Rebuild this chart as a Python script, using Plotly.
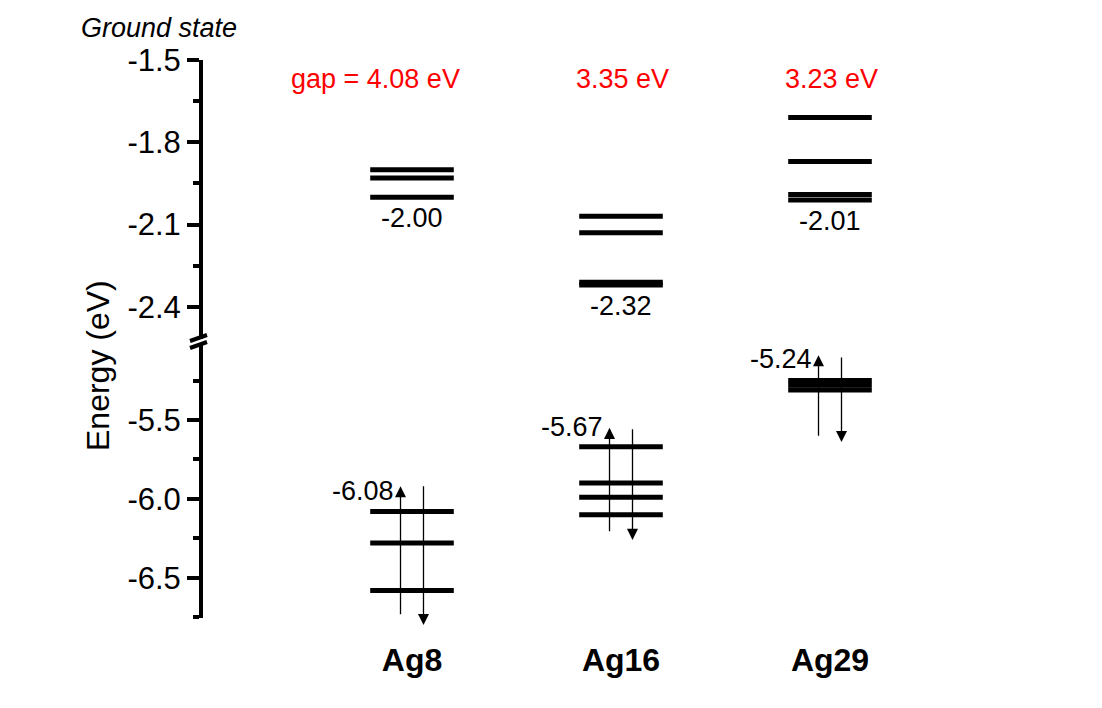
import plotly.graph_objects as go

# ---------------- data ----------------
categories = ["Ag8", "Ag16", "Ag29"]
cat_pos = [1, 2, 3]
lumo_levels = [[-1.90, -1.93, -2.00],
               [-2.07, -2.13, -2.31, -2.32],
               [-1.71, -1.87, -1.99, -2.01]]
homo_levels = [[-6.08, -6.28, -6.58],
               [-5.67, -5.90, -5.99, -6.10],
               [-5.25, -5.28, -5.31]]
lumo_values = [-2.00, -2.32, -2.01]
homo_values = [-6.08, -5.67, -5.24]
gaps = [4.08, 3.35, 3.23]
up_from = [-6.74, -6.215, -5.61]
up_to = [-5.92, -5.55, -5.09]
down_from = [-5.91, -5.55, -5.095]
down_to = [-6.80, -6.26, -5.64]

FONT = "Arial, Liberation Sans, sans-serif"
HALF = 0.2     # half width of a level bar
AOFF = 0.055   # arrow offset from the category centre

fig = go.Figure()

def level_trace(levels, c, yaxis):
    xs, ys = [], []
    for v in levels:
        xs += [c - HALF, c + HALF, None]
        ys += [v, v, None]
    return go.Scatter(x=xs, y=ys, mode="lines", yaxis=yaxis,
                      line=dict(color="black", width=5),
                      hoverinfo="skip", showlegend=False)

for c, lu, ho in zip(cat_pos, lumo_levels, homo_levels):
    fig.add_trace(level_trace(lu, c, "y"))
    fig.add_trace(level_trace(ho, c, "y2"))

annotations = []
for c, lv, hv, g, uf, ut, df, dt in zip(cat_pos, lumo_values, homo_values, gaps,
                                        up_from, up_to, down_from, down_to):
    # LUMO label
    annotations.append(dict(x=c, y=lv, xref="x", yref="y", text=f"{lv:.2f}",
                            showarrow=False, yanchor="middle", yshift=-21,
                            font=dict(family=FONT, size=27, color="black")))
    # HOMO label
    annotations.append(dict(x=c - AOFF, y=hv, xref="x", yref="y2", text=f"{hv:.2f}",
                            showarrow=False, xanchor="right", xshift=-5,
                            yanchor="middle", yshift=20,
                            font=dict(family=FONT, size=27, color="black")))
    # spin arrows
    annotations.append(dict(x=c - AOFF, y=ut, ax=c - AOFF, ay=uf, xref="x", yref="y2",
                            axref="x", ayref="y2", text="", showarrow=True,
                            arrowhead=2, arrowsize=1.7, arrowwidth=1.3,
                            arrowcolor="black", standoff=0, startstandoff=0))
    annotations.append(dict(x=c + AOFF, y=dt, ax=c + AOFF, ay=df, xref="x", yref="y2",
                            axref="x", ayref="y2", text="", showarrow=True,
                            arrowhead=2, arrowsize=1.7, arrowwidth=1.3,
                            arrowcolor="black", standoff=0, startstandoff=0))
    # gap label
    gtxt = f"gap = {g:.2f} eV" if c == cat_pos[0] else f"{g:.2f} eV"
    annotations.append(dict(x=c, y=1, xref="x", yref="paper", text=gtxt,
                            showarrow=False, xanchor="right", xshift=50,
                            yanchor="middle", yshift=-19,
                            font=dict(family=FONT, size=27, color="#FF0000")))

# plot area: x 203..1039, y 60..618
L, R, T, B = 203, 63, 60, 90
W, H = 1102, 708
pw, ph = W - L - R, H - T - B

def px(x):
    return (x - L) / pw

def py(y):
    return (H - B - y) / ph

annotations.append(dict(x=px(79), y=py(28), xref="paper", yref="paper",
                        text="<i>Ground state</i>", showarrow=False,
                        xanchor="left", yanchor="middle",
                        font=dict(family=FONT, size=27, color="black")))
annotations.append(dict(x=px(98), y=py(366), xref="paper", yref="paper",
                        text="Energy (eV)", showarrow=False, textangle=-90,
                        xanchor="center", yanchor="middle",
                        font=dict(family=FONT, size=32, color="black")))

shapes = []
for y0 in (341, 348):
    shapes.append(dict(type="line", xref="paper", yref="paper",
                       x0=px(190), y0=py(y0), x1=px(207), y1=py(y0 - 6),
                       line=dict(color="black", width=4)))

axis_common = dict(showgrid=False, zeroline=False, showline=True, linecolor="black",
                   linewidth=4, ticks="outside", ticklen=12, tickwidth=4,
                   tickcolor="black", tickfont=dict(family=FONT, size=31, color="black"),
                   anchor="x")

fig.update_layout(
    width=W, height=H,
    margin=dict(l=L, r=R, t=T, b=B),
    paper_bgcolor="white", plot_bgcolor="white",
    xaxis=dict(range=[0, 4], showgrid=False, zeroline=False, showline=False,
               tickvals=cat_pos, ticktext=[f"<b>{c}</b>" for c in categories],
               ticks="", ticklabelstandoff=20, anchor="y2",
               tickfont=dict(family=FONT, size=32, color="black")),
    yaxis=dict(domain=[py(339), 1], range=[-2.517, -1.5],
               tickvals=[-1.5, -1.8, -2.1, -2.4], ticktext=["-1.5", "-1.8", "-2.1", "-2.4"],
               minor=dict(tickvals=[-1.65, -1.95, -2.25], ticklen=6, tickwidth=4,
                          tickcolor="black", ticks="outside"),
               **axis_common),
    yaxis2=dict(domain=[0, py(345)], range=[-6.755, -5.025],
                tickvals=[-5.5, -6.0, -6.5], ticktext=["-5.5", "-6.0", "-6.5"],
                minor=dict(tickvals=[-5.25, -5.75, -6.25, -6.75], ticklen=6, tickwidth=4,
                           tickcolor="black", ticks="outside"),
                **axis_common),
    annotations=annotations,
    shapes=shapes,
    showlegend=False,
)

fig.write_html("out.html")
